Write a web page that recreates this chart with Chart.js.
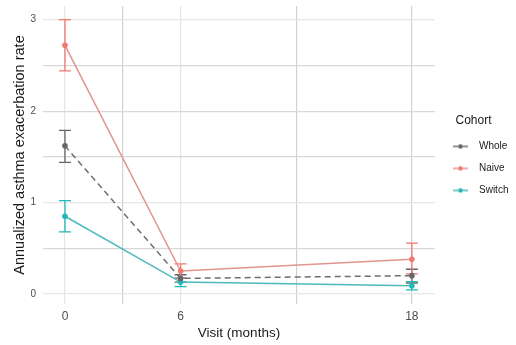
<!DOCTYPE html>
<html>
<head>
<meta charset="utf-8">
<script src="https://cdn.jsdelivr.net/npm/chart.js@4.4.1/dist/chart.umd.min.js"></script>
<style>
  html, body { margin: 0; padding: 0; background: #fff; }
  #caixa { width: 516px; height: 345px; }
</style>
</head>
<body>
<div id="caixa"><canvas id="grafico"></canvas></div>
<script>
// Dados
const visitas = [0, 6, 18];
const gradeX = [0, 3, 6, 12, 18];
const gradeY = [0, 0.5, 1, 1.5, 2, 2.5, 3];
const coortes = ['Whole', 'Naive', 'Switch'];

const whole = [1.62, 0.17, 0.20];
const wholeBaixo = [1.44, 0.13, 0.12];
const wholeAlto = [1.79, 0.21, 0.27];

const naive = [2.72, 0.25, 0.38];
const naiveBaixo = [2.44, 0.17, 0.22];
const naiveAlto = [3.00, 0.33, 0.555];

const switchV = [0.85, 0.13, 0.09];
const switchBaixo = [0.68, 0.08, 0.045];
const switchAlto = [1.02, 0.175, 0.135];

const cores = ['#666666', '#f07a70', '#20b8b8'];
const coresLinha = ['#6e6e6e', '#e0958d', '#4fb9b9'];
const valores = [whole, naive, switchV];
const baixos = [wholeBaixo, naiveBaixo, switchBaixo];
const altos = [wholeAlto, naiveAlto, switchAlto];

const pontos = arr => visitas.map((v, i) => ({ x: v, y: arr[i] }));

// Ícones da legenda (linha + ponto, estilo ggplot)
function icone(corLinha, corPonto) {
  const c = document.createElement('canvas');
  c.width = 15; c.height = 8;
  const g = c.getContext('2d');
  g.strokeStyle = corLinha; g.lineWidth = 1.5;
  g.beginPath(); g.moveTo(0, 4); g.lineTo(15, 4); g.stroke();
  g.fillStyle = corPonto;
  g.beginPath(); g.arc(7.5, 4, 2.2, 0, Math.PI * 2); g.fill();
  return c;
}
const icones = [0, 1, 2].map(i => icone(coresLinha[i], cores[i]));

// Barras de erro desenhadas pelas escalas do Chart.js
const barrasErro = {
  id: 'barrasErro',
  beforeDatasetsDraw(chart) {
    const { ctx, scales: { x, y } } = chart;
    ctx.save();
    ctx.lineWidth = 1.3;
    [0, 2, 1].forEach(d => {
      ctx.strokeStyle = cores[d];
      visitas.forEach((v, i) => {
        const px = x.getPixelForValue(v);
        const y1 = y.getPixelForValue(baixos[d][i]);
        const y2 = y.getPixelForValue(altos[d][i]);
        ctx.beginPath();
        ctx.moveTo(px, y1); ctx.lineTo(px, y2);
        ctx.moveTo(px - 6, y1); ctx.lineTo(px + 6, y1);
        ctx.moveTo(px - 6, y2); ctx.lineTo(px + 6, y2);
        ctx.stroke();
      });
    });
    ctx.restore();
  }
};

const fonte = 'Liberation Sans, Arial, sans-serif';

new Chart(document.getElementById('grafico'), {
  type: 'line',
  data: {
    datasets: coortes.map((nome, d) => ({
      label: nome,
      data: pontos(valores[d]),
      borderColor: coresLinha[d],
      backgroundColor: cores[d],
      pointBackgroundColor: cores[d],
      pointBorderWidth: 0,
      pointRadius: 2.8,
      borderWidth: 1.5,
      borderDash: d === 0 ? [6, 4] : [],
      tension: 0,
      order: d === 0 ? 0 : 1
    }))
  },
  options: {
    responsive: true,
    maintainAspectRatio: false,
    animation: false,
    layout: { padding: { top: 0, left: 11, right: 4, bottom: 3 } },
    scales: {
      x: {
        type: 'linear',
        min: -1.14,
        max: 19.2,
        afterBuildTicks: eixo => { eixo.ticks = gradeX.map(v => ({ value: v })); },
        afterFit: eixo => { eixo.height = 38; },
        ticks: {
          callback: v => visitas.includes(v) ? String(v) : '',
          color: '#4d4d4d',
          font: { family: fonte, size: 12 },
          padding: 5,
          maxRotation: 0,
          autoSkip: false
        },
        grid: {
          color: c => ([3, 12, 18].includes(c.tick.value) ? '#d2d2d2' : '#e6e6e6'),
          lineWidth: 1.2,
          drawTicks: false
        },
        border: { display: false },
        title: {
          display: true,
          text: 'Visit (months)',
          color: '#1a1a1a',
          font: { family: fonte, size: 13.5 },
          padding: { top: 0, bottom: 1 }
        }
      },
      y: {
        min: -0.11,
        max: 3.15,
        afterBuildTicks: eixo => { eixo.ticks = gradeY.map(v => ({ value: v })); },
        afterFit: eixo => { eixo.width = 32; },
        ticks: {
          callback: v => Number.isInteger(v) ? String(v) : '',
          color: '#4d4d4d',
          font: { family: fonte, size: 10 },
          padding: 0,
          autoSkip: false
        },
        grid: {
          color: c => ([0.5, 1.5, 2, 2.5].includes(c.tick.value) ? '#d8d8d8' : '#e6e6e6'),
          lineWidth: 1.2,
          drawTicks: true,
          tickLength: 7,
          tickColor: 'rgba(0,0,0,0)'
        },
        border: { display: false },
        title: {
          display: true,
          text: 'Annualized asthma exacerbation rate',
          color: '#1a1a1a',
          font: { family: fonte, size: 14.5 },
          padding: { top: 0, bottom: 0 }
        }
      }
    },
    plugins: {
      tooltip: { enabled: false },
      legend: {
        position: 'right',
        align: 'start',
        maxWidth: 77,
        title: {
          display: true,
          text: 'Cohort',
          color: '#1a1a1a',
          font: { family: fonte, size: 12 },
          padding: { top: 115, bottom: 0 },
          position: 'center'
        },
        labels: {
          usePointStyle: true,
          pointStyleWidth: 27,
          color: '#1a1a1a',
          font: { family: fonte, size: 10 },
          padding: 12,
          generateLabels: chart => chart.data.datasets.map((ds, i) => ({
            text: ds.label,
            pointStyle: icones[i],
            fillStyle: cores[i],
            strokeStyle: cores[i],
            lineWidth: 0,
            hidden: false,
            datasetIndex: i,
            fontColor: '#1a1a1a'
          }))
        }
      }
    }
  },
  plugins: [barrasErro]
});
</script>
</body>
</html>
